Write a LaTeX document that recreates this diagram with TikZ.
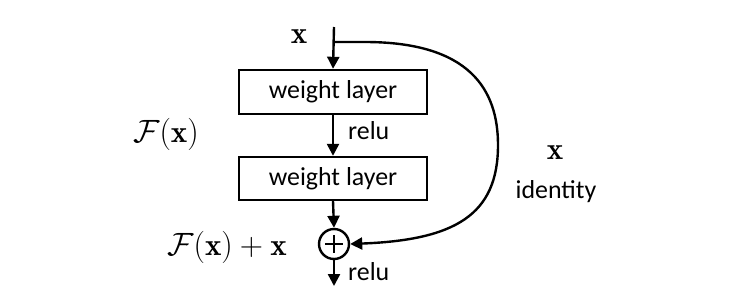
\documentclass[tikz,border=0pt]{standalone}
\usepackage{graphicx}
\usepackage{fontspec}
\setsansfont{Carlito}
\usetikzlibrary{arrows.meta}
\newcommand{\bigmath}[1]{\scalebox{1.56}{\fontsize{20}{24}\selectfont$#1$}}
\begin{document}
\begin{tikzpicture}[x=1bp,y=-1bp,
  line width=2.4bp,
  arr/.style={-{Triangle[length=12bp,width=12bp]}},
  layerbox/.style={draw,rectangle,minimum width=188bp,minimum height=44bp,inner sep=0pt,font=\sffamily\fontsize{26}{30}\selectfont},
  sanslabel/.style={font=\sffamily\fontsize{26}{30}\selectfont,inner sep=0pt},
  mathlabel/.style={inner sep=0pt}]
\useasboundingbox (0,0) rectangle (748,299);
\node[layerbox] (b1) at (333,92) {weight layer};
\node[layerbox,minimum height=43bp] (b2) at (333,178.5) {weight layer};
\node[draw,circle,minimum size=30bp,inner sep=0pt] (plus) at (334,244) {};
\draw[line width=2.2bp] ([yshift=9bp]plus.center) -- ([yshift=-9bp]plus.center);
\draw[line width=2.2bp] ([xshift=-9bp]plus.center) -- ([xshift=9bp]plus.center);
\coordinate (top) at (334,27);
\coordinate (split) at (334,42);
\coordinate (out) at (334,286);
\draw[arr] (top) -- (b1.north);
\draw[arr] (b1.south) -- (b2.north);
\draw[arr] (b2.south) -- (plus.north);
\draw[arr] (plus.south) -- (out);
\draw[arr] (split) -- (365,42) .. controls (470,42) and (498,90) .. (498,145)
  .. controls (498,215) and (455,240) .. (plus.east);
\node[mathlabel] (xin) at (299,37) {\bigmath{\mathbf{x}}};
\node[mathlabel] (fx) at (166,134) {\bigmath{\mathcal{F}(\mathbf{x})}};
\node[sanslabel,anchor=west] (relu1) at (347,131) {relu};
\node[mathlabel] (fxx) at (227,247) {\bigmath{\mathcal{F}(\mathbf{x})+\mathbf{x}}};
\node[sanslabel,anchor=west] (relu2) at (347,272) {relu};
\node[mathlabel] (xid) at (555,153) {\bigmath{\mathbf{x}}};
\node[sanslabel] (idt) at (556,192) {identity};
\end{tikzpicture}
\end{document}
